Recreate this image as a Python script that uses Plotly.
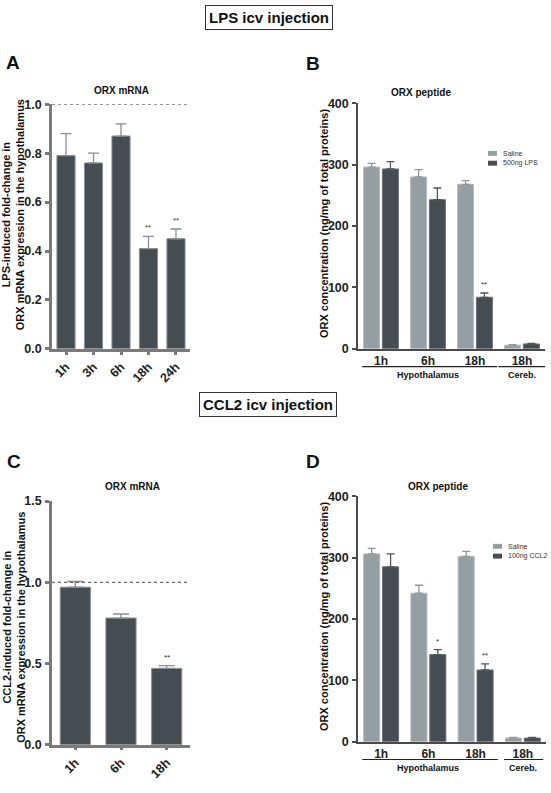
import plotly.graph_objects as go

W, H = 551, 793
FONT = "Liberation Sans"
DARK = "#454c52"
GREY = "#959ea2"
AXA = "#7a7a7a"
AXB = "#4a4a4a"

# ---------------- data ----------------
a_cats = ["1h", "3h", "6h", "18h", "24h"]
a_vals = [0.79, 0.76, 0.87, 0.41, 0.45]
a_err = [0.09, 0.04, 0.05, 0.05, 0.04]
a_sig = ["", "", "", "**", "**"]

b_cats = ["1h", "6h", "18h", "18h"]
b_groups = ["Hypothalamus", "Hypothalamus", "Hypothalamus", "Cereb."]
b_saline = [296, 280, 268, 6]
b_saline_err = [6, 12, 6, 1]
b_lps = [293, 243, 84, 8]
b_lps_err = [12, 19, 7, 1]
b_sig = ["", "", "**", ""]

c_cats = ["1h", "6h", "18h"]
c_vals = [0.97, 0.78, 0.47]
c_err = [0.035, 0.025, 0.017]
c_sig = ["", "", "**"]

d_cats = ["1h", "6h", "18h", "18h"]
d_groups = ["Hypothalamus", "Hypothalamus", "Hypothalamus", "Cereb."]
d_saline = [306, 242, 302, 6]
d_saline_err = [9, 13, 8, 1]
d_ccl2 = [285, 142, 117, 6]
d_ccl2_err = [21, 8, 10, 1]
d_sig = ["", "*", "**", ""]


def X(px):
    return px / W


def Y(py):
    return 1 - py / H


fig = go.Figure()
annotations = []
shapes = []


def single_panel(ax, cats, vals, err, sig, cap):
    xs = list(range(len(cats)))
    fig.add_trace(go.Bar(
        x=xs, y=vals, width=0.66, marker=dict(color=DARK, line=dict(color="#8a8f93", width=1)),
        error_y=dict(type="data", array=err, arrayminus=[0] * len(err), symmetric=False,
                     color="#8a8f93", thickness=1.3, width=cap),
        xaxis="x" + ax, yaxis="y" + ax, showlegend=False))
    for i, s in enumerate(sig):
        if s:
            annotations.append(dict(x=xs[i], y=vals[i] + err[i], xref="x" + ax, yref="y" + ax,
                                    text=s, showarrow=False, yanchor="bottom", yshift=2,
                                    font=dict(family=FONT, size=8, color="#333")))


def group_panel(ax, cats, s_vals, s_err, t_vals, t_err, sig):
    xs = list(range(len(cats)))
    fig.add_trace(go.Bar(
        x=xs, y=s_vals, width=0.34, offset=-0.37, marker=dict(color=GREY, line=dict(color="#b5bbbe", width=1)),
        error_y=dict(type="data", array=s_err, arrayminus=[0] * len(s_err), symmetric=False,
                     color="#8e979b", thickness=1.3, width=4),
        xaxis="x" + ax, yaxis="y" + ax, showlegend=False))
    fig.add_trace(go.Bar(
        x=xs, y=t_vals, width=0.34, offset=0.03, marker=dict(color=DARK, line=dict(color="#6a7075", width=1)),
        error_y=dict(type="data", array=t_err, arrayminus=[0] * len(t_err), symmetric=False,
                     color="#50575c", thickness=1.3, width=4),
        xaxis="x" + ax, yaxis="y" + ax, showlegend=False))
    for i, s in enumerate(sig):
        if s:
            annotations.append(dict(x=xs[i] + 0.2, y=t_vals[i] + t_err[i], xref="x" + ax, yref="y" + ax,
                                    text=s, showarrow=False, yanchor="bottom", yshift=2,
                                    font=dict(family=FONT, size=8, color="#333")))


single_panel("", a_cats, a_vals, a_err, a_sig, 5.5)
group_panel("2", b_cats, b_saline, b_saline_err, b_lps, b_lps_err, b_sig)
single_panel("3", c_cats, c_vals, c_err, c_sig, 8)
group_panel("4", d_cats, d_saline, d_saline_err, d_ccl2, d_ccl2_err, d_sig)

tickfont = dict(family=FONT, size=12.5, color="#222", weight="bold")


def yax(domain, rng, dtick, fmt, color, lw, anchor):
    return dict(domain=domain, range=rng, dtick=dtick, tick0=0, tickformat=fmt,
                showgrid=False, zeroline=False, showline=True, linecolor=color, linewidth=lw,
                ticks="outside", ticklen=4, tickwidth=lw, tickcolor=color, tickfont=tickfont,
                ticklabelstandoff=1, anchor=anchor, fixedrange=True)


def xax_single(domain, cats, color, lw, anchor):
    return dict(domain=domain, range=[-0.51, len(cats) - 0.49], tickvals=list(range(len(cats))),
                ticktext=cats, tickangle=-45, showgrid=False, zeroline=False, showline=True,
                linecolor=color, linewidth=lw, ticks="outside", ticklen=3, tickcolor=color,
                tickwidth=lw, tickfont=tickfont, anchor=anchor, fixedrange=True)


def xax_group(domain, cats, anchor):
    return dict(domain=domain, range=[-0.49, len(cats) - 0.51], tickvals=list(range(len(cats))),
                ticktext=cats, showgrid=False, zeroline=False, showline=True,
                linecolor=AXB, linewidth=1.5, ticks="", tickfont=dict(family=FONT, size=12, color="#222", weight="bold"),
                anchor=anchor, fixedrange=True)


layout = dict(
    width=W, height=H, margin=dict(l=0, r=0, t=0, b=0),
    paper_bgcolor="white", plot_bgcolor="white",
    barmode="overlay", showlegend=False,
    xaxis=xax_single([X(52), X(190)], a_cats, AXA, 2.5, "y"),
    yaxis=yax([Y(348), Y(99)], [0, 1.0], 0.2, ".1f", AXA, 2.5, "x"),
    xaxis2=xax_group([X(358), X(545)], b_cats, "y2"),
    yaxis2=yax([Y(348), Y(98)], [0, 400], 100, "d", AXB, 1.5, "x2"),
    xaxis3=xax_single([X(52), X(190)], c_cats, AXA, 2.5, "y3"),
    yaxis3=yax([Y(751), Y(503)], [0, 1.5], 0.5, ".1f", AXA, 2.5, "x3"),
    xaxis4=xax_group([X(358), X(546)], d_cats, "y4"),
    yaxis4=yax([Y(748), Y(498)], [0, 400], 100, "d", AXB, 1.5, "x4"),
)
fig.update_layout(**layout)

# dotted reference lines at 1.0
for ax in ["", "3"]:
    shapes.append(dict(type="line", xref="x" + ax + " domain", yref="y" + ax, x0=0, x1=1, y0=1, y1=1,
                       line=dict(color="#444", width=1, dash="dot")))


def bold(t):
    return "<b>" + t + "</b>"


def ann(px, py, text, size, **kw):
    d = dict(x=X(px), y=Y(py), xref="paper", yref="paper", text=text, showarrow=False,
             font=dict(family=FONT, size=size, color=kw.pop("color", "#111")),
             xanchor=kw.pop("xanchor", "center"), yanchor=kw.pop("yanchor", "middle"))
    d.update(kw)
    annotations.append(d)


# section titles (boxed)
ann(269, 11, bold("LPS icv injection"), 15, bordercolor="#333", borderwidth=1, borderpad=3, bgcolor="white")
ann(268, 405, bold("CCL2 icv injection"), 15, bordercolor="#333", borderwidth=1, borderpad=3, bgcolor="white")

# panel letters
for px, py, t in [(13, 57, "A"), (313, 58, "B"), (14, 463, "C"), (313, 463, "D")]:
    ann(px, py, bold(t), 19)

# panel titles
ann(121, 85, bold("ORX mRNA"), 10)
ann(421, 87, bold("ORX peptide"), 10)
ann(132, 488, bold("ORX mRNA"), 10)
ann(438, 488, bold("ORX peptide"), 10)

# y-axis titles
ann(13, 212, bold("LPS-induced fold-change in<br>ORX mRNA expression in the hypothalamus"), 11, textangle=-90)
ann(14, 632, bold("CCL2-induced fold-change in<br>ORX mRNA expression in the hypothalamus"), 11, textangle=-90)
ann(324, 220, bold("ORX concentration (ng/mg of total proteins)"), 11, textangle=-90)
ann(324, 620, bold("ORX concentration (ng/mg of total proteins)"), 11, textangle=-90)


# group brackets below the grouped panels
def brackets(ax, groups, line_py, lab_py, spans):
    names = []
    for g in groups:
        if g not in names:
            names.append(g)
    for name, (x0, x1) in zip(names, spans):
        idx = [i for i, g in enumerate(groups) if g == name]
        shapes.append(dict(type="line", xref="x" + ax, yref="paper", x0=x0, x1=x1,
                           y0=Y(line_py), y1=Y(line_py), line=dict(color="#222", width=1.2)))
        annotations.append(dict(x=sum(idx) / len(idx), y=Y(lab_py), xref="x" + ax, yref="paper",
                                text=bold(name), showarrow=False, xanchor="center", yanchor="middle",
                                font=dict(family=FONT, size=9, color="#111")))


brackets("2", b_groups, 366, 374.5, [(-0.40, 2.47), (2.50, 3.51)])
brackets("4", d_groups, 766, 774.5, [(-0.40, 2.47), (2.60, 3.43)])


# legends
def legend(px, py, labels, colors):
    for k, (lab, col) in enumerate(zip(labels, colors)):
        yy = py + 10 * k
        shapes.append(dict(type="rect", xref="paper", yref="paper", x0=X(px), x1=X(px + 9),
                           y0=Y(yy + 2.5), y1=Y(yy - 2.5), fillcolor=col, line=dict(width=0)))
        ann(px + 13, yy, lab, 7, xanchor="left", color="#333")


legend(488, 149, ["Saline", "500ng LPS"], [GREY, DARK])
legend(493, 549, ["Saline", "100ng CCL2"], [GREY, DARK])

fig.update_layout(annotations=annotations, shapes=shapes)
fig.write_html("out.html")
